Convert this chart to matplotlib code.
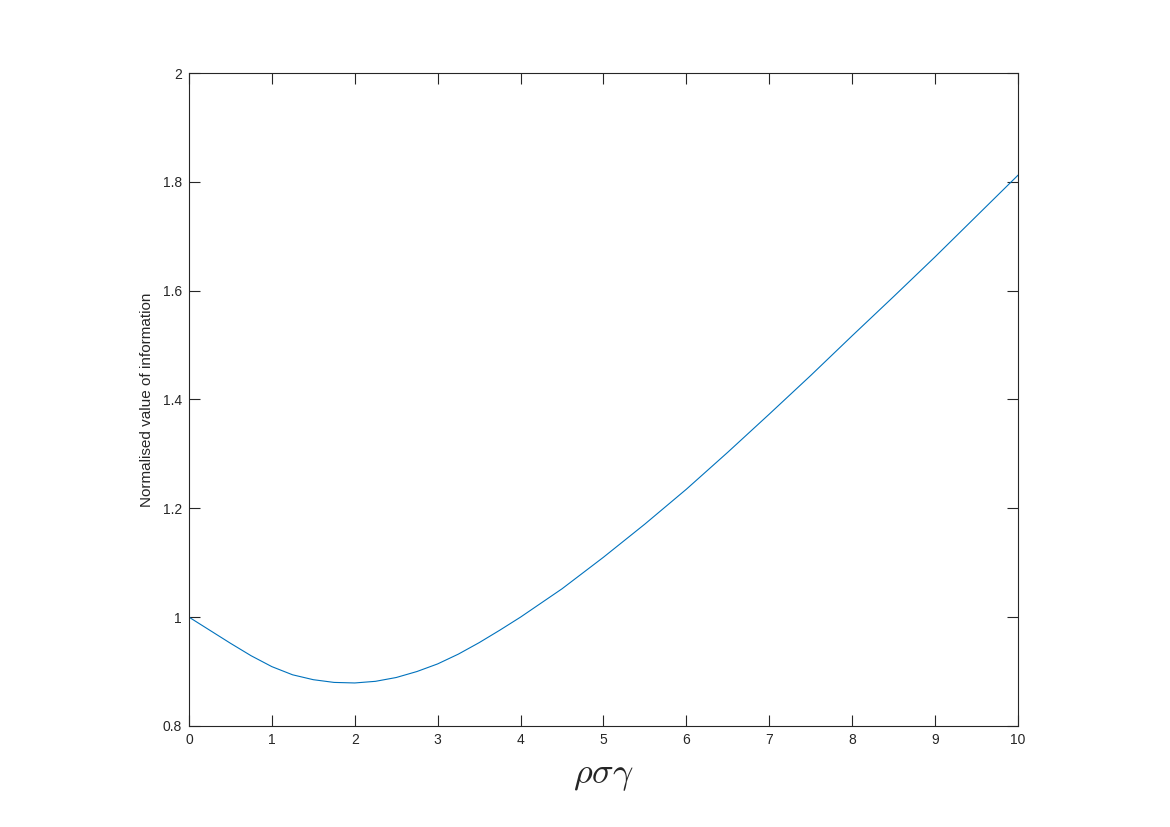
"""
Normalised value of information against rho*sigma*gamma (MATLAB-style figure).
"""

import matplotlib
matplotlib.use("Agg")
import matplotlib.pyplot as plt
from matplotlib.ticker import FuncFormatter

# values
rsg = [0.0, 0.25, 0.5, 0.75, 1.0, 1.25, 1.5, 1.75, 2.0, 2.25, 2.5, 2.75,
       3.0, 3.25, 3.5, 3.75, 4.0, 4.5, 5.0, 5.5, 6.0, 6.5, 7.0, 7.5,
       8.0, 8.5, 9.0, 9.5, 10.0]
value = [1.000, 0.976, 0.952, 0.929, 0.909, 0.894, 0.885, 0.880, 0.879,
         0.882, 0.889, 0.900, 0.914, 0.932, 0.953, 0.976, 1.000, 1.052,
         1.110, 1.171, 1.235, 1.303, 1.373, 1.444, 1.517, 1.589, 1.662,
         1.737, 1.812]
x_ticks = [0, 1, 2, 3, 4, 5, 6, 7, 8, 9, 10]
y_ticks = [0.8, 1.0, 1.2, 1.4, 1.6, 1.8, 2.0]


def main():
    plt.rcParams['font.family'] = ['Liberation Sans', 'DejaVu Sans']
    plt.rcParams['mathtext.fontset'] = 'cm'
    axis_grey = "#262626"

    fig = plt.figure(figsize=(11.7, 8.27), dpi=100)
    ax = fig.add_axes([0.1615, 0.1222, 0.7085, 0.7895])

    ax.plot(rsg, value, color="#0072BD", lw=0.8)

    ax.set_xlim(0, 10)
    ax.set_ylim(0.8, 2.0)
    ax.set_xticks(x_ticks)
    ax.set_yticks(y_ticks)
    ax.yaxis.set_major_formatter(FuncFormatter(lambda v, _: f"{v:g}"))

    for s in ax.spines.values():
        s.set_color(axis_grey)
        s.set_linewidth(0.8)
    ax.tick_params(direction="in", length=8, width=0.8, colors=axis_grey,
                   labelsize=10, top=True, right=True, pad=5)

    ax.set_ylabel("Normalised value of information", fontsize=11,
                  color=axis_grey, labelpad=6)
    ax.set_xlabel(r"$\rho\sigma\gamma$", fontsize=26, color=axis_grey,
                  labelpad=8)

    fig.savefig("out.png", dpi=100)


if __name__ == '__main__':
    main()
